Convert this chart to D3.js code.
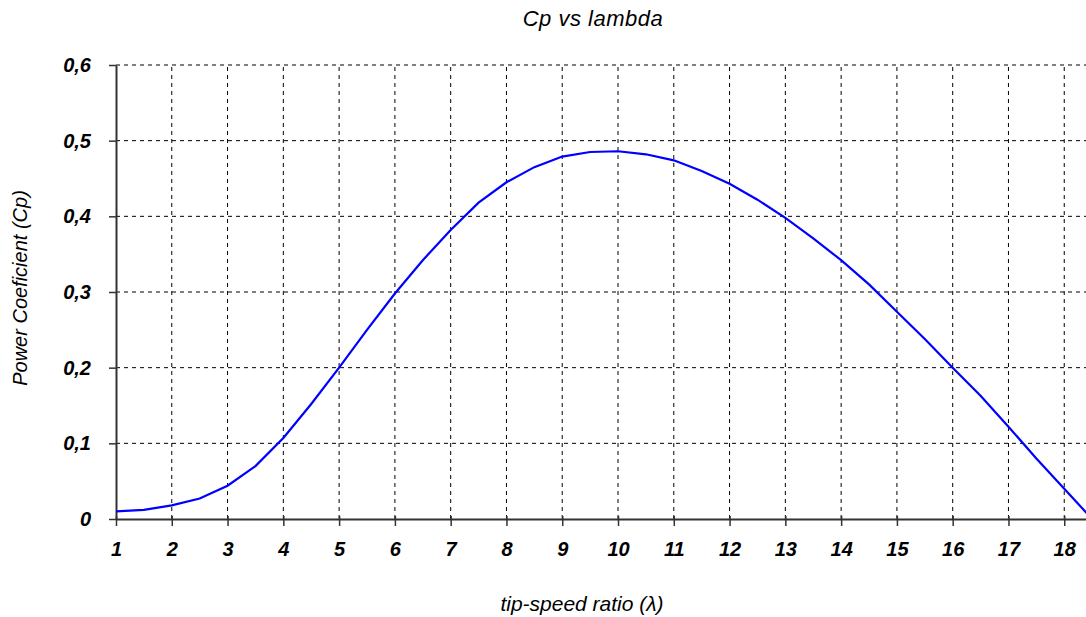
<!DOCTYPE html>
<meta charset="utf-8">
<script src="https://d3js.org/d3.v7.min.js"></script>
<style>
  body { margin: 0; background: #fff; }
  text { font-family: Arial, "Liberation Sans", sans-serif; }
</style>
<div id="chart"></div>
<script>
// tip-speed ratio values and power coefficient
var lambda = [1, 1.5, 2, 2.5, 3, 3.5, 4, 4.5, 5, 5.5, 6, 6.5, 7, 7.5, 8, 8.5, 9, 9.5, 10,
              10.5, 11, 11.5, 12, 12.5, 13, 13.5, 14, 14.5, 15, 15.5, 16, 16.5, 17, 17.5, 18, 18.4];
var cp = [0.010, 0.012, 0.018, 0.027, 0.044, 0.070, 0.107, 0.152, 0.200, 0.250, 0.298, 0.342,
          0.382, 0.418, 0.445, 0.465, 0.479, 0.485, 0.486, 0.482, 0.474, 0.460, 0.443, 0.422,
          0.398, 0.371, 0.342, 0.310, 0.274, 0.238, 0.200, 0.163, 0.122, 0.080, 0.040, 0.008];
var xTicks = d3.range(1, 19);
var yTicks = [0, 0.1, 0.2, 0.3, 0.4, 0.5, 0.6];

var W = 1086, H = 617;
var svg = d3.select("#chart").append("svg")
    .attr("width", W)
    .attr("height", H);

var x = d3.scaleLinear().domain([1, 18.39]).range([116, 1086]);
var y = d3.scaleLinear().domain([0, 0.6]).range([519, 65]);

// grid
svg.append("g").selectAll("line").data(xTicks.slice(1)).enter().append("line")
    .attr("x1", d => x(d)).attr("x2", d => x(d))
    .attr("y1", y(0)).attr("y2", y(0.6))
    .attr("stroke", "#000").attr("stroke-dasharray", "4,4").attr("stroke-width", 1);
svg.append("g").selectAll("line").data(yTicks.slice(1)).enter().append("line")
    .attr("x1", x(1)).attr("x2", W)
    .attr("y1", d => y(d)).attr("y2", d => y(d))
    .attr("stroke", "#000").attr("stroke-dasharray", "4,4").attr("stroke-width", 1);

// axes
var xAxis = svg.append("g")
    .attr("transform", "translate(0," + y(0) + ")")
    .call(d3.axisBottom(x).tickValues(xTicks).tickSizeInner(7).tickSizeOuter(0).tickPadding(16));
var yAxis = svg.append("g")
    .attr("transform", "translate(" + x(1) + ",0)")
    .call(d3.axisLeft(y).tickValues(yTicks).tickSizeInner(7).tickSizeOuter(0).tickPadding(18)
      .tickFormat(d => d3.format(".1f")(d).replace(".", ",").replace("0,0", "0")));

[xAxis, yAxis].forEach(function(g) {
  g.select(".domain").attr("stroke", "#333").attr("stroke-width", 2);
  g.selectAll(".tick line").attr("stroke", "#333").attr("stroke-width", 1.5);
  g.selectAll(".tick text")
    .style("font-size", "20px").style("font-weight", "bold").style("font-style", "italic")
    .attr("fill", "#000");
});
xAxis.selectAll(".tick line").attr("y1", -3);

// curve
svg.append("path")
    .datum(lambda.map((l, i) => [l, cp[i]]))
    .attr("fill", "none")
    .attr("stroke", "#0000ff")
    .attr("stroke-width", 2.2)
    .attr("d", d3.line().x(d => x(d[0])).y(d => y(d[1])));

// titles
svg.append("text")
    .attr("x", 593).attr("y", 26)
    .style("text-anchor", "middle")
    .style("font-size", "22px").style("font-style", "italic")
    .style("letter-spacing", "0.5px")
    .text("Cp vs lambda");

svg.append("text")
    .attr("x", 582).attr("y", 611)
    .style("text-anchor", "middle")
    .style("font-size", "21px").style("font-style", "italic")
    .text("tip-speed ratio (λ)");

svg.append("text")
    .attr("transform", "translate(27,288) rotate(-90)")
    .style("text-anchor", "middle")
    .style("font-size", "20px").style("font-style", "italic")
    .text("Power Coeficient (Cp)");
</script>
